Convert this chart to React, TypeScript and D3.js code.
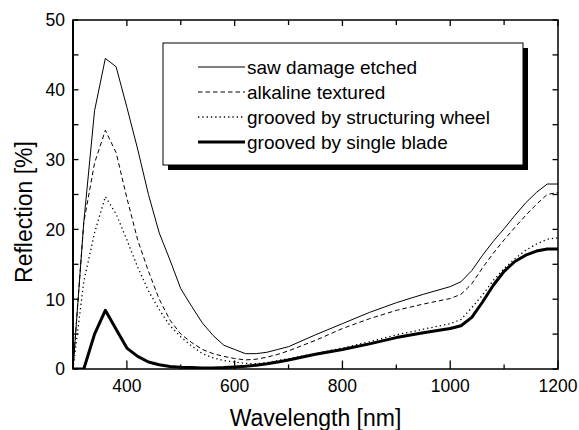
import React from "react";
import * as d3 from "d3";

// wavelength grid (nm)
const wavelength = [
  300, 320, 340, 360, 380, 400, 420, 440, 460, 480, 500, 520, 540, 560, 580,
  600, 620, 640, 660, 680, 700, 750, 800, 850, 900, 950, 1000, 1020, 1040,
  1060, 1080, 1100, 1120, 1140, 1160, 1180, 1200,
];

const sawDamage = [
  0, 21, 37, 44.5, 43.3, 37.5, 31.5, 25, 19.5, 15.6, 11.5, 9, 6.6, 4.8, 3.4,
  2.8, 2.2, 2.2, 2.4, 2.8, 3.2, 4.9, 6.5, 8.1, 9.5, 10.7, 11.8, 12.5, 14.1,
  16.3, 18.3, 20.1, 22, 23.8, 25.3, 26.5, 26.5,
];

const alkaline = [
  0, 21, 29.5, 34.2, 31, 24.5, 18.5, 14, 10, 7, 5, 3.8, 2.8, 2.2, 1.8, 1.5,
  1.3, 1.4, 1.7, 2.1, 2.6, 4.1, 5.8, 7.2, 8.4, 9.3, 10.1, 10.7, 12.2, 14.5,
  16.6, 18.5, 20.3, 22, 23.6, 25, 25.3,
];

const wheel = [
  0, 12.5, 19.5, 24.7, 22.2, 18.5, 14.6, 11.2, 8.5, 6.2, 4.6, 3.3, 2.2, 1.6,
  1.2, 1.0, 0.8, 0.75, 0.9, 1.2, 1.5, 2.2, 3.0, 3.9, 4.9, 5.7, 6.5, 7.1, 8.8,
  10.6, 12.7, 14.4, 15.8, 17, 17.9, 18.6, 18.8,
];

const singleBlade = [
  0, 0, 5, 8.4, 5.7, 3.0, 1.8, 1.0, 0.6, 0.35, 0.25, 0.2, 0.15, 0.15, 0.2,
  0.3, 0.4, 0.55, 0.75, 1.0, 1.3, 2.1, 2.8, 3.6, 4.5, 5.2, 5.8, 6.2, 7.4, 9.6,
  12, 14, 15.4, 16.3, 16.9, 17.2, 17.2,
];

const legendLabels = [
  "saw damage etched",
  "alkaline textured",
  "grooved by structuring wheel",
  "grooved by single blade",
];

const xTicks = [400, 600, 800, 1000, 1200];
const xMinor = [300, 500, 700, 900, 1100];
const yTicks = [0, 10, 20, 30, 40, 50];
const yMinor = [5, 15, 25, 35, 45];

const width = 579;
const height = 430;
const left = 73;
const right = 558;
const top = 20;
const bottom = 369;
const font = "Arial, 'Liberation Sans', sans-serif";

const styles = [
  { width: 1, dash: "none" },
  { width: 1, dash: "4.5,3" },
  { width: 1.3, dash: "1.3,3" },
  { width: 3, dash: "none" },
];

const App = () => {
  const x = d3.scaleLinear().domain([300, 1200]).range([left, right]);
  const y = d3.scaleLinear().domain([0, 50]).range([bottom, top]);
  const line = d3
    .line<number>()
    .x((_, i) => x(wavelength[i]))
    .y((d) => y(d))
    .curve(d3.curveLinear);

  const series = [sawDamage, alkaline, wheel, singleBlade];

  const legX = 163;
  const legY = 43;
  const legW = 360;
  const legH = 122;

  return (
    <svg
      width={width}
      height={height}
      style={{ position: "absolute", left: 0, top: 0, background: "#fff" }}
      fontFamily={font}
    >
      <defs>
        <clipPath id="plot">
          <rect x={left} y={top - 2} width={right - left} height={bottom - top + 2} />
        </clipPath>
      </defs>

      <g clipPath="url(#plot)" fill="none" stroke="#000" strokeLinejoin="round">
        {series.map((s, i) => (
          <path
            key={i}
            d={line(s) || ""}
            strokeWidth={styles[i].width}
            strokeDasharray={styles[i].dash}
          />
        ))}
      </g>

      {/* frame */}
      <rect
        x={left}
        y={top}
        width={right - left}
        height={bottom - top}
        fill="none"
        stroke="#000"
        strokeWidth={1.5}
      />
      <line x1={left} x2={left} y1={top} y2={bottom} stroke="#000" strokeWidth={2} />

      {/* x ticks */}
      <g stroke="#000" strokeWidth={1.3}>
        {xTicks.map((t) => (
          <g key={"xt" + t}>
            <line x1={x(t)} x2={x(t)} y1={bottom} y2={bottom - 8.5} />
            <line x1={x(t)} x2={x(t)} y1={top} y2={top + 6} />
          </g>
        ))}
        {xMinor.map((t) => (
          <g key={"xm" + t}>
            <line x1={x(t)} x2={x(t)} y1={bottom} y2={bottom - 4.5} />
            <line x1={x(t)} x2={x(t)} y1={top} y2={top + 5} />
          </g>
        ))}
        {[...yTicks, ...yMinor].map((t) => (
          <g key={"y" + t}>
            <line x1={left} x2={left + 5.5} y1={y(t)} y2={y(t)} />
            <line x1={right} x2={right - 5.5} y1={y(t)} y2={y(t)} />
          </g>
        ))}
      </g>

      <g fontSize={17.5} fill="#000">
        {xTicks.map((t) => (
          <text key={"xl" + t} x={x(t)} y={392} textAnchor="middle">
            {t}
          </text>
        ))}
        <text x={x(300)} y={392} textAnchor="middle">
          {""}
        </text>
        {yTicks.map((t) => (
          <text key={"yl" + t} x={65} y={y(t)} dy="0.36em" textAnchor="end">
            {t}
          </text>
        ))}
      </g>

      <text x={(left + right) / 2} y={426} fontSize={23} textAnchor="middle">
        Wavelength [nm]
      </text>
      <text
        transform={`translate(32,212) rotate(-90)`}
        fontSize={23}
        textAnchor="middle"
      >
        Reflection [%]
      </text>

      {/* legend */}
      <rect x={legX + 5} y={legY + 5} width={legW} height={legH} fill="#000" />
      <rect
        x={legX}
        y={legY}
        width={legW}
        height={legH}
        fill="#fff"
        stroke="#000"
        strokeWidth={1}
      />
      {legendLabels.map((label, i) => {
        const ry = 67 + i * 25;
        return (
          <g key={label}>
            <line
              x1={198}
              x2={245}
              y1={ry}
              y2={ry}
              stroke="#000"
              strokeWidth={styles[i].width}
              strokeDasharray={styles[i].dash}
            />
            <text x={247} y={ry} dy="0.36em" fontSize={19}>
              {label}
            </text>
          </g>
        );
      })}
    </svg>
  );
};

export default App;
